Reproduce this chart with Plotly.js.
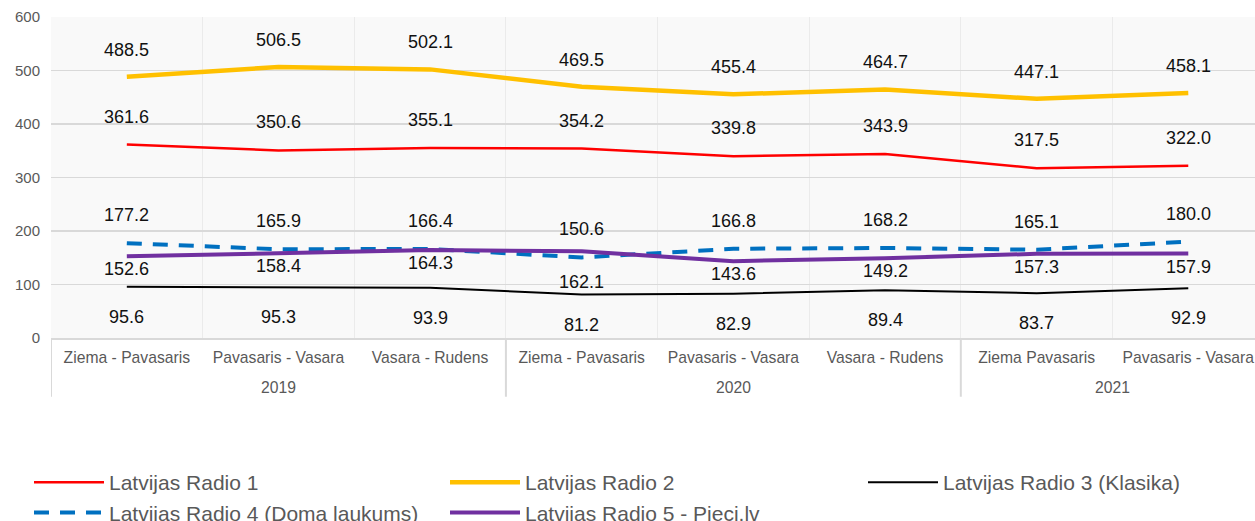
<!DOCTYPE html>
<html>
<head>
<meta charset="utf-8">
<script src="https://cdn.plot.ly/plotly-3.0.1.min.js"></script>
<style>html,body{margin:0;padding:0;background:#fff;}#chart{width:1255px;height:521px;}</style>
</head>
<body>
<div id="chart"></div>
<script>
// ---- data ----
const years   = ["2019","2019","2019","2020","2020","2020","2021","2021"];
const seasons = ["Ziema - Pavasaris","Pavasaris - Vasara","Vasara - Rudens",
                 "Ziema - Pavasaris","Pavasaris - Vasara","Vasara - Rudens",
                 "Ziema Pavasaris","Pavasaris - Vasara"];
const seriesNames = ["Latvijas Radio 1","Latvijas Radio 2","Latvijas Radio 3 (Klasika)",
                     "Latvijas Radio 4 (Doma laukums)","Latvijas Radio 5 - Pieci.lv"];
const radio1 = [361.6,350.6,355.1,354.2,339.8,343.9,317.5,322.0];
const radio2 = [488.5,506.5,502.1,469.5,455.4,464.7,447.1,458.1];
const radio3 = [95.6,95.3,93.9,81.2,82.9,89.4,83.7,92.9];
const radio4 = [177.2,165.9,166.4,150.6,166.8,168.2,165.1,180.0];
const radio5 = [152.6,158.4,164.3,162.1,143.6,149.2,157.3,157.9];
const yTicks = [0,100,200,300,400,500,600];

// ---- styles ----
const FONT = '"Liberation Sans", Arial, sans-serif';
const styles = [
  {color:'#FF0000', width:2.5, dash:'solid',     shift:28,  legend:'legend'},
  {color:'#FFC000', width:4.5, dash:'solid',     shift:27,  legend:'legend2'},
  {color:'#000000', width:2,   dash:'solid',     shift:-30, legend:'legend3'},
  {color:'#0070C0', width:4,   dash:'15px,11px', shift:28,  legend:'legend'},
  {color:'#7030A0', width:4,   dash:'solid',     shift:-13, legend:'legend2'}
];
const labelShiftOverride = {"4-3": -31};
const allSeries = [radio1, radio2, radio3, radio4, radio5];
const idx = seasons.map((_, i) => i);

const traces = allSeries.map((vals, k) => ({
  type:'scatter', mode:'lines',
  x:idx, y:vals,
  name:seriesNames[k],
  legend:styles[k].legend,
  line:{color:styles[k].color, width:styles[k].width, dash:styles[k].dash},
  hoverinfo:'y'
}));

// data labels
const annotations = [];
allSeries.forEach((vals, k) => {
  vals.forEach((v, i) => {
    const key = k + '-' + i;
    annotations.push({
      x:i, y:v, xref:'x', yref:'y',
      text:v.toFixed(1), showarrow:false,
      yshift:(labelShiftOverride[key] !== undefined ? labelShiftOverride[key] : styles[k].shift),
      font:{family:FONT, size:18, color:'#111111'}
    });
  });
});

// year group labels + dividers
const groups = [];
years.forEach((y, i) => {
  if (!groups.length || groups[groups.length-1].name !== y) groups.push({name:y, start:i, end:i});
  else groups[groups.length-1].end = i;
});
const shapes = [];
groups.forEach(g => {
  annotations.push({
    x:(g.start + g.end) / 2, y:-0.1536, xref:'x', yref:'paper',
    yanchor:'middle', text:g.name, showarrow:false,
    font:{family:FONT, size:15.7, color:'#595959'}
  });
  shapes.push({type:'line', xref:'x', yref:'paper', x0:g.start - 0.5, x1:g.start - 0.5,
               y0:0, y1:-0.183, line:{color:'#d9d9d9', width:2}, layer:'above'});
});
shapes.push({type:'line', xref:'x', yref:'paper',
             x0:groups[groups.length-1].end + 0.5, x1:groups[groups.length-1].end + 0.5,
             y0:0, y1:-0.183, line:{color:'#d9d9d9', width:2}, layer:'above'});

const boundaries = [-0.5].concat(idx.map(i => i + 0.5));

const legendBase = {
  orientation:'h', xref:'container', yref:'container', xanchor:'left', yanchor:'top',
  y:0.1132, itemwidth:70, entrywidth:560, entrywidthmode:'pixels',
  font:{family:FONT, size:21, color:'#595959'},
  bgcolor:'rgba(0,0,0,0)', traceorder:'normal'
};

const layout = {
  width:1255, height:521,
  margin:{l:51, r:0, t:17, b:183},
  paper_bgcolor:'#ffffff', plot_bgcolor:'#f9f9f9',
  font:{family:FONT, color:'#595959'},
  xaxis:{
    range:[-0.5, 7.44], tickmode:'array', tickvals:idx, ticktext:seasons,
    showgrid:false, zeroline:false, ticks:'',
    showline:true, linecolor:'#d9d9d9', linewidth:2,
    tickfont:{family:FONT, size:15.7, color:'#595959'}, ticklabelstandoff:4,
    ticklabeloverflow:'allow',
    minor:{tickmode:'array', tickvals:boundaries, showgrid:true, gridcolor:'#ebebeb', gridwidth:1, ticks:''}
  },
  yaxis:{
    range:[0,600], tickmode:'array', tickvals:yTicks, ticktext:yTicks.map(String),
    showgrid:true, gridcolor:'#d9d9d9', gridwidth:1.5,
    zeroline:false, ticks:'', ticklabelstandoff:10,
    tickfont:{family:FONT, size:15, color:'#595959'}
  },
  showlegend:true,
  legend:Object.assign({}, legendBase, {x:29/1255}),
  legend2:Object.assign({}, legendBase, {x:445/1255}),
  legend3:Object.assign({}, legendBase, {x:863/1255, entrywidth:300}),
  annotations:annotations,
  shapes:shapes
};

Plotly.newPlot('chart', traces, layout, {displayModeBar:false, staticPlot:true});
</script>
</body>
</html>
